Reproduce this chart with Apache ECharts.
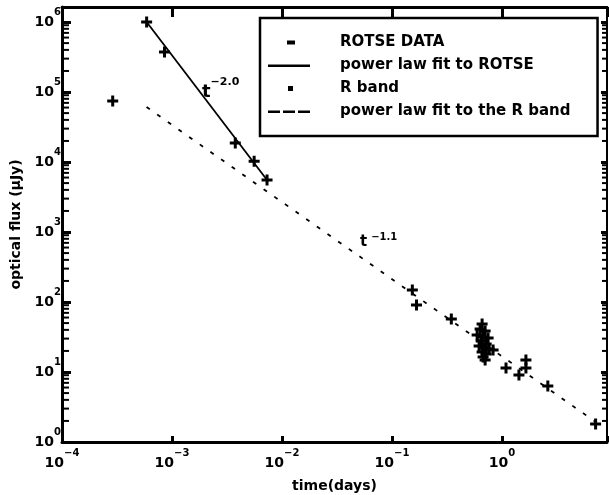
<!DOCTYPE html>
<html>
<head>
<meta charset="utf-8">
<script src="https://cdn.jsdelivr.net/npm/echarts@6.0.0/dist/echarts.min.js"></script>
<style>
  html, body { margin: 0; padding: 0; background: #fff; }
  #main { width: 609px; height: 495px; }
</style>
</head>
<body>
<div id="main"></div>
<script>
// time in days, flux in uJy
const rotseTime = [2.89e-4, 5.88e-4, 8.55e-4, 3.76e-3, 5.58e-3, 7.31e-3];
const rotseFlux = [7.44e4, 1.0e6, 3.73e5, 1.87e4, 1.03e4, 5.53e3];

const rbandTime = [0.153, 0.167, 0.346,
    0.659, 0.632, 0.702, 0.594, 0.673, 0.747, 0.646, 0.717,
    0.619, 0.687, 0.763, 0.659, 0.717, 0.673, 0.702, 0.829,
    1.087, 1.425, 1.649, 1.649, 2.608, 7.09];
const rbandFlux = [148, 90.6, 57.2,
    48.5, 41.2, 38.5, 33.8, 31.6, 30.6, 27.7, 25.1,
    23.5, 22.0, 21.3, 19.3, 18.1, 16.4, 14.8, 20.6,
    11.4, 9.06, 14.8, 11.4, 6.31, 1.81];

// end points of the two power law fits
const rotseFitTime = [5.88e-4, 7.31e-3];
const rotseFitFlux = [1.0e6, 5.53e3];
const rbandFitTime = [5.87e-4, 7.1];
const rbandFitFlux = [6.1e4, 1.93];

const xRange = [1e-4, 9];
const yRange = [1, 1.64e6];

const seriesNames = ['ROTSE DATA', 'power law fit to ROTSE', 'R band', 'power law fit to the R band'];

// minor ticks of the flux axis (2..9 x 10^n); log axes in echarts have no real minor ticks
const yMinorTicks = [];
for (let n = 0; n <= 6; n++) {
    for (let k = 2; k <= 9; k++) {
        if (k * Math.pow(10, n) < yRange[1]) yMinorTicks.push(k * Math.pow(10, n));
    }
}

const pairs = (xs, ys) => xs.map((x, i) => [x, ys[i]]);
const plus = 'path://M4,0h3v4h4v3h-4v4h-3v-4h-4v-3h4z';
const font = { fontFamily: 'DejaVu Sans', fontWeight: 'bold', color: '#000' };

function powLabel(v) {
    const e = Math.log10(v);
    if (Math.abs(e - Math.round(e)) > 1e-6) return '';
    const n = Math.round(e);
    return '{b|10}{s|' + (n < 0 ? '\u2212' + (-n) : n) + '}';
}

const xRich = {
    b: Object.assign({}, font, { fontSize: 14, lineHeight: 22, verticalAlign: 'bottom' }),
    s: Object.assign({}, font, { fontSize: 10, lineHeight: 22, verticalAlign: 'top' })
};

const axisBase = (range) => ({
    type: 'log',
    logBase: 10,
    min: range[0],
    max: range[1],
    splitLine: { show: false },
    minorTick: { show: false },
    minorSplitLine: { show: false }
});

// small tick marks on the frame, drawn as a silent scatter
const minorTickSeries = (xVal, w, offset) => ({
    type: 'scatter',
    silent: true,
    clip: false,
    data: yMinorTicks.map(v => [xVal, v]),
    symbol: 'rect',
    symbolSize: [w, 2],
    symbolOffset: [offset, 0],
    itemStyle: { color: '#000', opacity: 1 },
    z: 3
});

const chart = echarts.init(document.getElementById('main'));

const option = {
    animation: false,
    backgroundColor: '#fff',
    grid: { left: 62, right: 2, top: 7, bottom: 53, containLabel: false, outerBoundsMode: 'none' },
    xAxis: [
        Object.assign(axisBase(xRange), {
            position: 'bottom',
            axisLine: { lineStyle: { color: '#000', width: 3 } },
            axisTick: { inside: true, length: 6, lineStyle: { color: '#000', width: 3 } },
            axisLabel: { formatter: powLabel, margin: 6, rich: xRich, color: '#000' },
            name: 'time(days)',
            nameLocation: 'middle',
            nameGap: 37,
            nameTextStyle: Object.assign({}, font, { fontSize: 14 })
        }),
        Object.assign(axisBase(xRange), {
            position: 'top',
            axisLine: { lineStyle: { color: '#000', width: 3 } },
            axisTick: { inside: true, length: 10, lineStyle: { color: '#000', width: 3 } },
            axisLabel: { show: false }
        })
    ],
    yAxis: [
        Object.assign(axisBase(yRange), {
            position: 'left',
            axisLine: { lineStyle: { color: '#000', width: 3 } },
            axisTick: { inside: true, length: 9, lineStyle: { color: '#000', width: 3 } },
            axisLabel: { formatter: powLabel, margin: 1, rich: xRich, color: '#000', padding: [0, 0, 8, 0] },
            name: 'optical flux (\u03bcJy)',
            nameLocation: 'middle',
            nameGap: 32,
            nameTextStyle: Object.assign({}, font, { fontSize: 14 })
        }),
        Object.assign(axisBase(yRange), {
            position: 'right',
            axisLine: { lineStyle: { color: '#000', width: 2 } },
            axisTick: { inside: true, length: 6, lineStyle: { color: '#000', width: 3 } },
            axisLabel: { show: false }
        })
    ],
    legend: {
        left: 260,
        top: 18,
        orient: 'vertical',
        selectedMode: false,
        backgroundColor: '#fff',
        borderColor: '#000',
        borderWidth: 2.5,
        borderRadius: 0,
        padding: [17, 27, 17, 8],
        itemWidth: 42,
        itemHeight: 14,
        itemGap: 8,
        itemStyle: { borderWidth: 0, opacity: 1 },
        textStyle: Object.assign({}, font, { fontSize: 15, padding: [0, 0, 0, 25] }),
        data: [
            { name: seriesNames[0], icon: 'path://M0,0M42,14M19,5h8v4h-8z' },
            { name: seriesNames[1], icon: 'path://M0,0M42,14M0,6h42v2.5h-42z' },
            { name: seriesNames[2], icon: 'path://M0,0M42,14M20,4.5h5v5h-5z' },
            { name: seriesNames[3], icon: 'path://M0,0M42,14M0,6h12v2.5h-12zM15,6h12v2.5h-12zM30,6h12v2.5h-12z' }
        ]
    },
    graphic: [
        {
            type: 'text', left: 202, top: 77, silent: true,
            style: {
                text: '{t|t}{s|\u22122.0}',
                rich: {
                    t: Object.assign({}, font, { fontSize: 18, lineHeight: 24, verticalAlign: 'bottom' }),
                    s: Object.assign({}, font, { fontSize: 11, lineHeight: 24, verticalAlign: 'top' })
                }
            }
        },
        {
            type: 'text', left: 360, top: 232, silent: true,
            style: {
                text: '{t|t}{s|\u22121.1}',
                rich: {
                    t: Object.assign({}, font, { fontSize: 15, lineHeight: 18, verticalAlign: 'bottom' }),
                    s: Object.assign({}, font, { fontSize: 10, lineHeight: 18, verticalAlign: 'top', padding: [0, 0, 0, 4] })
                }
            }
        }
    ],
    series: [
        {
            name: seriesNames[0],
            type: 'scatter',
            data: pairs(rotseTime, rotseFlux),
            symbol: plus,
            symbolSize: 11,
            itemStyle: { color: '#000', opacity: 1 }
        },
        {
            name: seriesNames[1],
            type: 'line',
            data: pairs(rotseFitTime, rotseFitFlux),
            symbol: 'none',
            color: '#000',
            lineStyle: { color: '#000', width: 1.8 }
        },
        {
            name: seriesNames[2],
            type: 'scatter',
            data: pairs(rbandTime, rbandFlux),
            symbol: plus,
            symbolSize: 11,
            itemStyle: { color: '#000', opacity: 1 }
        },
        {
            name: seriesNames[3],
            type: 'line',
            data: pairs(rbandFitTime, rbandFitFlux),
            symbol: 'none',
            color: '#000',
            lineStyle: { color: '#000', width: 1.8, type: [4, 9] }
        },
        minorTickSeries(xRange[0], 7, 3.5),
        minorTickSeries(xRange[1], 5, -2.5)
    ]
};

chart.setOption(option);
</script>
</body>
</html>
